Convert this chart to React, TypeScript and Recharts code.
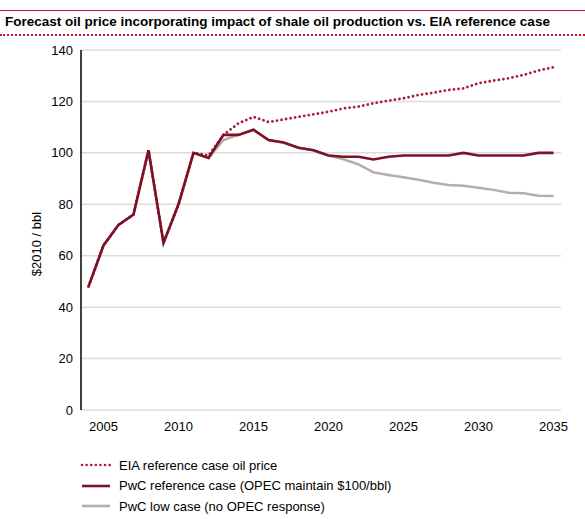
import React from "react";
import { LineChart, Line, XAxis, YAxis, CartesianGrid } from "recharts";

const years = [
  2004, 2005, 2006, 2007, 2008, 2009, 2010, 2011, 2012, 2013, 2014, 2015, 2016, 2017, 2018, 2019,
  2020, 2021, 2022, 2023, 2024, 2025, 2026, 2027, 2028, 2029, 2030, 2031, 2032, 2033, 2034, 2035,
];

const eiaReference = [
  48, 64, 72, 76, 101, 65, 80, 100, 99, 107, 111.5, 114, 112, 113, 114, 115,
  116, 117.3, 118, 119.3, 120.3, 121.2, 122.5, 123.4, 124.5, 125.1, 127.1, 128.1, 129, 130.3, 132, 133.3,
];

const pwcReference = [
  48, 64, 72, 76, 101, 65, 80, 100, 98, 107, 107, 109, 105, 104, 102, 101,
  99, 98.5, 98.5, 97.4, 98.5, 99, 99, 99, 99, 100, 99, 99, 99, 99, 100, 100,
];

const pwcLow = [
  48, 64, 72, 76, 101, 65, 80, 100, 98, 105, 107, 109, 105, 104, 102, 101,
  99, 97.5, 95.5, 92.4, 91.4, 90.5, 89.5, 88.4, 87.5, 87.2, 86.4, 85.6, 84.5, 84.3, 83.3, 83.2,
];

const xTicks = [2005, 2010, 2015, 2020, 2025, 2030, 2035];
const yTicks = [0, 20, 40, 60, 80, 100, 120, 140];

const seriesNames = [
  "EIA reference case oil price",
  "PwC reference case (OPEC maintain $100/bbl)",
  "PwC low case (no OPEC response)",
];

const data = years.map((year, i) => ({
  year,
  eia: eiaReference[i],
  ref: pwcReference[i],
  low: pwcLow[i],
}));

const FONT = '"Liberation Sans", Arial, Helvetica, sans-serif';
const RED_DOT = "#b01c35";
const RED = "#7c1127";
const GREY = "#b8aca7";

const YLabel = () => (
  <text
    x={41}
    y={244}
    transform="rotate(-90 41 244)"
    textAnchor="middle"
    fontSize={13}
    fill="#000"
    fontFamily={FONT}
  >
    $2010 / bbl
  </text>
);

const App: React.FC = () => {
  return (
    <div
      style={{
        position: "absolute",
        left: 0,
        top: 0,
        width: 585,
        height: 519,
        background: "#fff",
        fontFamily: FONT,
      }}
    >
      <div style={{ position: "absolute", left: 0, top: 10, width: 585, borderTop: "1px solid #c8102e" }} />
      <div
        style={{
          position: "absolute",
          left: 5,
          top: 14,
          fontSize: 13.5,
          fontWeight: "bold",
          color: "#000",
          whiteSpace: "nowrap",
        }}
      >
        Forecast oil price incorporating impact of shale oil production vs. EIA reference case
      </div>
      <div style={{ position: "absolute", left: 0, top: 34, width: 585, borderTop: "2px dotted #c8102e" }} />

      <div style={{ position: "absolute", left: 0, top: 0 }}>
        <LineChart width={585} height={519} data={data} margin={{ top: 50, right: 24, bottom: 79, left: 0 }}>
          <CartesianGrid vertical={false} stroke="#dcdcdc" strokeWidth={1.5} />
          <XAxis
            dataKey="year"
            type="number"
            domain={[2003.5, 2035.5]}
            ticks={xTicks}
            axisLine={false}
            tickLine={false}
            tickMargin={6}
            height={30}
            tick={{ fontSize: 13, fill: "#000", fontFamily: FONT }}
          />
          <YAxis
            domain={[0, 140]}
            ticks={yTicks}
            width={81}
            axisLine={{ stroke: "#000", strokeWidth: 1.5 }}
            tickLine={false}
            tickMargin={2}
            tick={{ fontSize: 13, fill: "#000", fontFamily: FONT }}
            label={{ content: () => <YLabel /> }}
          />
          <Line
            dataKey="low"
            name={seriesNames[2]}
            stroke={GREY}
            strokeWidth={2.5}
            dot={false}
            isAnimationActive={false}
          />
          <Line
            dataKey="eia"
            name={seriesNames[0]}
            stroke={RED_DOT}
            strokeWidth={2.8}
            strokeDasharray="0.01 4.6"
            strokeLinecap="round"
            dot={false}
            isAnimationActive={false}
          />
          <Line
            dataKey="ref"
            name={seriesNames[1]}
            stroke={RED}
            strokeWidth={2.6}
            dot={false}
            isAnimationActive={false}
          />
        </LineChart>
      </div>

      <div style={{ position: "absolute", left: 80, top: 455, fontSize: 13, color: "#000" }}>
        {[
          { color: RED_DOT, dotted: true },
          { color: RED, dotted: false },
          { color: GREY, dotted: false },
        ].map((s, i) => (
          <div key={i} style={{ display: "flex", alignItems: "center", height: 20.5 }}>
            <svg width={39} height={6}>
              <line
                x1={2}
                y1={3}
                x2={30}
                y2={3}
                stroke={s.color}
                strokeWidth={2.6}
                strokeDasharray={s.dotted ? "0.01 4.6" : undefined}
                strokeLinecap={s.dotted ? "round" : "butt"}
              />
            </svg>
            <span>{seriesNames[i]}</span>
          </div>
        ))}
      </div>
    </div>
  );
};

export default App;
